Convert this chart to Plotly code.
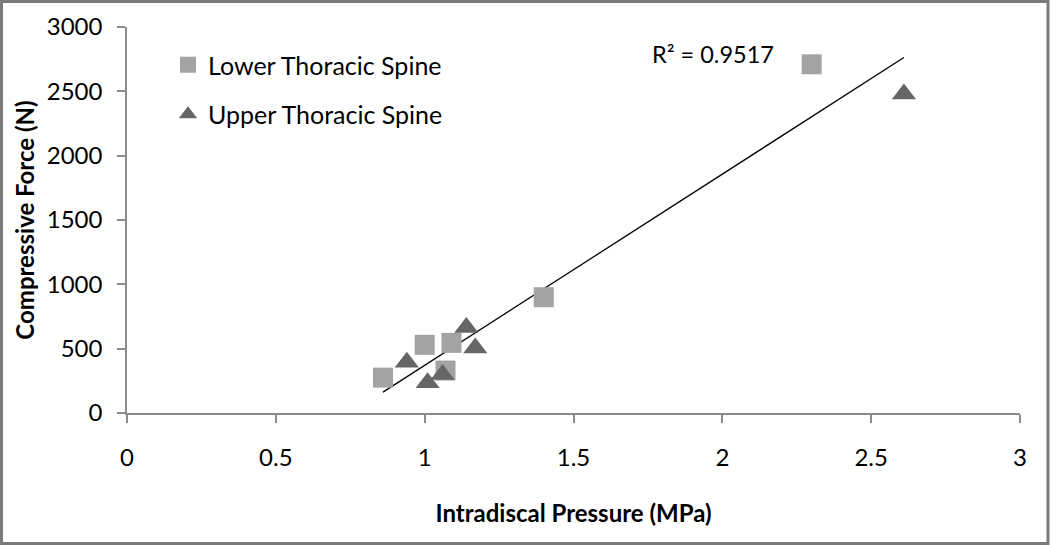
import numpy as np
import plotly.graph_objects as go

# ---- data ----
lower_x = [0.86, 1.00, 1.09, 1.07, 1.40, 2.30]
lower_y = [275, 530, 545, 330, 900, 2710]
upper_x = [0.94, 1.01, 1.06, 1.14, 1.17, 2.61]
upper_y = [395, 235, 300, 665, 505, 2480]
lower_name = "Lower Thoracic Spine"
upper_name = "Upper Thoracic Spine"
r2_text = "R\u00b2 = 0.9517"
x_ticks = [0, 0.5, 1, 1.5, 2, 2.5, 3]
x_tick_text = ["0", "0.5", "1", "1.5", "2", "2.5", "3"]
y_ticks = [0, 500, 1000, 1500, 2000, 2500, 3000]
y_tick_text = ["0", "500", "1000", "1500", "2000", "2500", "3000"]

# linear trendline over all points
all_x = np.array(lower_x + upper_x)
all_y = np.array(lower_y + upper_y)
slope, intercept = np.polyfit(all_x, all_y, 1)
trend_x = np.array([all_x.min(), all_x.max()])
trend_y = slope * trend_x + intercept

FONT = "Lato"
W, H = 1050, 545
ML, MR, MT, MB = 127, 30, 27, 132
PW, PH = W - ML - MR, H - MT - MB


def px_x(p):
    return (p - ML) / PW


def px_y(p):
    return 1 - (p - MT) / PH


fig = go.Figure()
fig.add_trace(go.Scatter(
    x=trend_x, y=trend_y, mode="lines",
    line=dict(color="#000000", width=1.3), showlegend=False, hoverinfo="skip"))
fig.add_trace(go.Scatter(
    x=lower_x, y=lower_y, mode="markers", name=lower_name, legendgroup="a",
    marker=dict(symbol="square", size=20, color="#A3A3A3",
                line=dict(width=0))))
fig.add_trace(go.Scatter(
    x=upper_x, y=upper_y, mode="markers", name=upper_name, legendgroup="b",
    marker=dict(symbol="triangle-up", size=21, color="#666666",
                line=dict(width=0))))

fig.add_annotation(x=1.97, y=2790, text=r2_text, showarrow=False,
                   font=dict(family=FONT, size=23.5, color="#000000"),
                   xanchor="center", yanchor="middle")

fig.add_shape(type="rect", xref="paper", yref="paper",
              x0=px_x(1.5), x1=px_x(1048), y0=px_y(543.5), y1=px_y(1.5),
              line=dict(color="#7A7A7A", width=3), layer="below")

axis_common = dict(
    showgrid=False, zeroline=False, showline=True,
    linecolor="#8C8C8C", linewidth=1.5,
    ticks="outside", ticklen=8, tickwidth=1.5, tickcolor="#8C8C8C",
    tickfont=dict(family=FONT, size=24, color="#000000"),
)

fig.update_layout(
    width=W, height=H,
    margin=dict(l=ML, r=MR, t=MT, b=MB),
    paper_bgcolor="#FFFFFF", plot_bgcolor="#FFFFFF",
    xaxis=dict(range=[0, 3], tickvals=x_ticks, ticktext=x_tick_text,
               ticklabelstandoff=14,
               title=dict(text="<b>Intradiscal Pressure (MPa)</b>",
                          font=dict(family=FONT, size=24, color="#000000"),
                          standoff=36),
               **axis_common),
    yaxis=dict(range=[0, 3000], tickvals=y_ticks, ticktext=y_tick_text,
               ticklabelstandoff=10,
               title=dict(text="<b>Compressive Force (N)</b>",
                          font=dict(family=FONT, size=24, color="#000000"),
                          standoff=5),
               **axis_common),
    legend=dict(x=px_x(168), y=px_y(42), xanchor="left", yanchor="top",
                font=dict(family=FONT, size=25, color="#000000"),
                bgcolor="rgba(0,0,0,0)", tracegroupgap=14, itemwidth=30),
    showlegend=True,
)

fig.write_html("out.html", config={"displayModeBar": False},
               post_script="document.body.style.margin='0';")
